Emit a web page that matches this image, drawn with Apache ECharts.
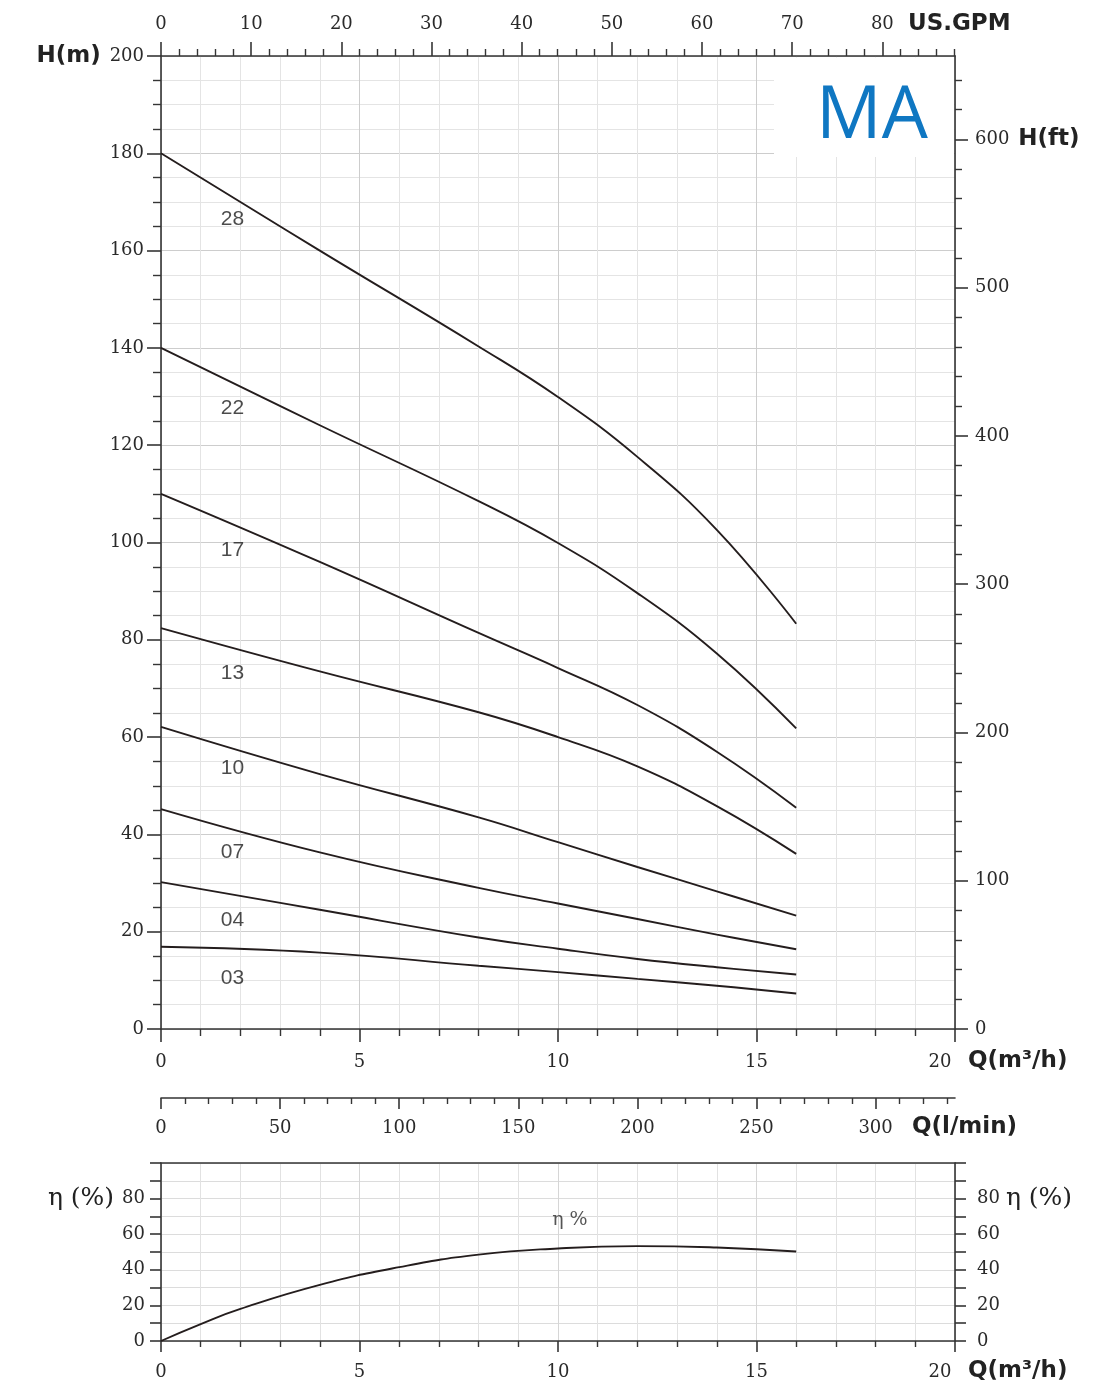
<!DOCTYPE html>
<html>
<head>
<meta charset="utf-8">
<script src="https://cdn.jsdelivr.net/npm/echarts@6/dist/echarts.min.js"></script>
<style>
html,body{margin:0;padding:0;background:#fff;}
#chart{width:1120px;height:1388px;}
</style>
</head>
<body>
<div id="chart"></div>
<script>
// ---------- data ----------
const flowQ = [0, 4, 8, 10, 12, 14, 16];               // m3/h
const stageNames = ['28', '22', '17', '13', '10', '07', '04', '03'];
const head28 = [180, 160.0, 140.3, 129.9, 117.6, 102.6, 83.3];
const head22 = [140, 124.1, 108.5, 99.9, 89.6, 77.2, 61.8];
const head17 = [110, 96.0, 81.4, 74.2, 66.6, 57.0, 45.5];
const head13 = [82.4, 73.5, 65.1, 60.0, 54.0, 45.8, 36.0];
const head10 = [62.1, 52.4, 43.5, 38.4, 33.3, 28.3, 23.3];
const head07 = [45.2, 36.3, 29.0, 25.8, 22.6, 19.4, 16.4];
const head04 = [30.2, 24.5, 18.8, 16.5, 14.4, 12.7, 11.2];
const head03 = [16.9, 15.7, 13.0, 11.7, 10.3, 8.9, 7.3];
const labelQ = 1.8;
const labelH = [166.5, 127.6, 98.5, 73.2, 53.6, 36.4, 22.4, 10.5];

const effQ = [0, 1, 2, 4, 6, 8, 10, 12, 14, 16];
const effPct = [0, 9.5, 18, 31.5, 41.5, 48.5, 52, 53.3, 52.5, 50.3];
const effLabelPos = [10.3, 68];

const qMajorTicks = [0, 5, 10, 15, 20];
const gpmMajorTicks = [0, 10, 20, 30, 40, 50, 60, 70, 80];
const gpmMinorTicks = [2,4,6,8,12,14,16,18,22,24,26,28,32,34,36,38,42,44,46,48,52,54,56,58,62,64,66,68,72,74,76,78,82,84,86,88];
const lpmMajorTicks = [0, 50, 100, 150, 200, 250, 300];
const lpmMinorTicks = [10,20,30,40,60,70,80,90,110,120,130,140,160,170,180,190,210,220,230,240,260,270,280,290,310,320,330];
const ftMajorTicks = [0, 100, 200, 300, 400, 500, 600];
const ftMinorTicks = [20,40,60,80,120,140,160,180,220,240,260,280,320,340,360,380,420,440,460,480,520,540,560,580,620,640];
const effLabelTicks = [0, 20, 40, 60, 80];

// unit conversions
const GPM_PER_M3H = 4.402868;
const LPM_PER_M3H = 1000 / 60;
const FT_PER_M = 3.28084;
const Q_MAX = 20, H_MAX = 200, EFF_MAX = 100;

// ---------- styles ----------
const AX = '#353535';
const TXT = '#2a2a2a';
const SERIF = 'DejaVu Serif';
const BOLD = { fontFamily: 'DejaVu Sans', fontWeight: 'bold', fontSize: 23, color: '#222' };
const lblBase = { fontFamily: SERIF, fontSize: 18, color: TXT };
const line = { color: AX, width: 1.6 };

function lineAxis(extra) {
  return Object.assign({
    type: 'value',
    axisLine: { show: true, onZero: false, lineStyle: line },
    axisTick: { show: true, inside: false, lineStyle: line },
    axisLabel: Object.assign({ show: true }, lblBase),
    splitLine: { show: false },
    silent: true
  }, extra);
}

const xAxes = [
  // 0 main Q bottom
  lineAxis({
    gridIndex: 0, position: 'bottom', min: 0, max: Q_MAX, interval: 5,
    axisTick: { show: true, length: 13, lineStyle: line },
    minorTick: { show: true, splitNumber: 5, length: 7, lineStyle: { color: AX, width: 1.4 } },
    splitLine: { show: true, lineStyle: { color: '#cdcdcd', width: 1 } },
    minorSplitLine: { show: true, lineStyle: { color: '#e4e4e4', width: 1 } },
    axisLabel: Object.assign({}, lblBase, {
      margin: 24,
      customValues: qMajorTicks,
      formatter: v => v === Q_MAX ? '{last|' + v + '}' : String(v),
      rich: { last: Object.assign({ padding: [0, 30, 0, 0] }, lblBase) }
    }),
    name: 'Q(m³/h)', nameLocation: 'end', nameGap: 13,
    nameTextStyle: Object.assign({ verticalAlign: 'top', padding: [21, 0, 0, 0] }, BOLD)
  }),
  // 1 GPM major top
  lineAxis({
    gridIndex: 0, position: 'top', min: 0, max: Q_MAX * GPM_PER_M3H,
    axisTick: { show: true, length: 14, customValues: gpmMajorTicks, lineStyle: line },
    axisLabel: Object.assign({}, lblBase, { margin: 23, customValues: gpmMajorTicks }),
    name: 'US.GPM', nameLocation: 'end', nameGap: -47,
    nameTextStyle: Object.assign({ verticalAlign: 'bottom', padding: [0, 0, 20, 0] }, BOLD)
  }),
  // 2 GPM minor top
  lineAxis({
    gridIndex: 0, position: 'top', min: 0, max: Q_MAX * GPM_PER_M3H,
    axisLine: { show: false, onZero: false },
    axisTick: { show: true, length: 7, customValues: gpmMinorTicks, lineStyle: { color: AX, width: 1.4 } },
    axisLabel: { show: false }
  }),
  // 3 l/min major
  lineAxis({
    gridIndex: 0, position: 'bottom', offset: 69, min: 0, max: Q_MAX * LPM_PER_M3H,
    axisTick: { show: true, length: 11, customValues: lpmMajorTicks, lineStyle: line },
    axisLabel: Object.assign({}, lblBase, { margin: 21, customValues: lpmMajorTicks }),
    name: 'Q(l/min)', nameLocation: 'end', nameGap: -43,
    nameTextStyle: Object.assign({ verticalAlign: 'top', padding: [18, 0, 0, 0] }, BOLD)
  }),
  // 4 l/min minor
  lineAxis({
    gridIndex: 0, position: 'bottom', offset: 69, min: 0, max: Q_MAX * LPM_PER_M3H,
    axisLine: { show: false, onZero: false },
    axisTick: { show: true, length: 6, customValues: lpmMinorTicks, lineStyle: { color: AX, width: 1.4 } },
    axisLabel: { show: false }
  }),
  // 5 efficiency Q bottom
  lineAxis({
    gridIndex: 1, position: 'bottom', min: 0, max: Q_MAX, interval: 5,
    axisTick: { show: true, length: 11, lineStyle: line },
    minorTick: { show: true, splitNumber: 5, length: 6, lineStyle: { color: AX, width: 1.4 } },
    splitLine: { show: true, lineStyle: { color: '#d6d6d6', width: 1 } },
    minorSplitLine: { show: true, lineStyle: { color: '#e2e2e2', width: 1 } },
    axisLabel: Object.assign({}, lblBase, {
      margin: 22,
      customValues: qMajorTicks,
      formatter: v => v === Q_MAX ? '{last|' + v + '}' : String(v),
      rich: { last: Object.assign({ padding: [0, 30, 0, 0] }, lblBase) }
    }),
    name: 'Q(m³/h)', nameLocation: 'end', nameGap: 13,
    nameTextStyle: Object.assign({ verticalAlign: 'top', padding: [19, 0, 0, 0] }, BOLD)
  }),
  // 6 efficiency top border
  lineAxis({
    gridIndex: 1, position: 'top', min: 0, max: Q_MAX,
    axisTick: { show: false }, axisLabel: { show: false }
  })
];

const yAxes = [
  // 0 H(m) left
  lineAxis({
    gridIndex: 0, position: 'left', min: 0, max: H_MAX, interval: 20,
    axisTick: { show: true, length: 14, lineStyle: line },
    minorTick: { show: true, splitNumber: 4, length: 8, lineStyle: { color: AX, width: 1.4 } },
    splitLine: { show: true, lineStyle: { color: '#cdcdcd', width: 1 } },
    minorSplitLine: { show: true, lineStyle: { color: '#e4e4e4', width: 1 } },
    axisLabel: Object.assign({}, lblBase, {
      margin: 17,
      formatter: v => v === H_MAX ? '{nm|H(m)}' + v : String(v),
      rich: { nm: Object.assign({ padding: [0, 9, 0, 0] }, BOLD) }
    })
  }),
  // 1 H(ft) right major
  lineAxis({
    gridIndex: 0, position: 'right', min: 0, max: H_MAX * FT_PER_M,
    axisTick: { show: true, length: 13, customValues: ftMajorTicks, lineStyle: line },
    axisLabel: Object.assign({}, lblBase, {
      margin: 20, customValues: ftMajorTicks,
      formatter: v => v === 600 ? v + '{nm|H(ft)}' : String(v),
      rich: { nm: Object.assign({ padding: [0, 0, 0, 9] }, BOLD) }
    })
  }),
  // 2 H(ft) right minor
  lineAxis({
    gridIndex: 0, position: 'right', min: 0, max: H_MAX * FT_PER_M,
    axisLine: { show: false, onZero: false },
    axisTick: { show: true, length: 7, customValues: ftMinorTicks, lineStyle: { color: AX, width: 1.4 } },
    axisLabel: { show: false }
  }),
  // 3 eff left
  lineAxis({
    gridIndex: 1, position: 'left', min: 0, max: EFF_MAX, interval: 10,
    axisTick: { show: true, length: 11, lineStyle: line },
    splitLine: { show: true, lineStyle: { color: '#dcdcdc', width: 1 } },
    axisLabel: Object.assign({}, lblBase, {
      margin: 16, customValues: effLabelTicks,
      formatter: v => v === 80 ? '{nm|η (%)}' + v : String(v),
      rich: { nm: { fontFamily: SERIF, fontSize: 25, color: '#222', padding: [0, 8, 0, 0] } }
    })
  }),
  // 4 eff right
  lineAxis({
    gridIndex: 1, position: 'right', min: 0, max: EFF_MAX, interval: 10,
    axisTick: { show: true, length: 11, lineStyle: line },
    axisLabel: Object.assign({}, lblBase, {
      margin: 22, customValues: effLabelTicks,
      formatter: v => v === 80 ? v + '{nm|η (%)}' : String(v),
      rich: { nm: { fontFamily: SERIF, fontSize: 25, color: '#222', padding: [0, 0, 0, 6] } }
    })
  })
];

const heads = [head28, head22, head17, head13, head10, head07, head04, head03];
const curveStyle = { color: '#241d1d', width: 1.9 };

const series = heads.map((h, i) => ({
  name: stageNames[i],
  type: 'line',
  xAxisIndex: 0, yAxisIndex: 0,
  data: flowQ.map((q, j) => [q, h[j]]),
  smooth: 0.45,
  showSymbol: false, silent: true,
  lineStyle: curveStyle, z: 3
}));

series.push({
  type: 'scatter', xAxisIndex: 0, yAxisIndex: 0, symbolSize: 0, silent: true,
  data: stageNames.map((s, i) => ({ name: s, value: [labelQ, labelH[i]] })),
  label: { show: true, position: 'inside', formatter: '{b}', fontFamily: 'Liberation Sans', fontSize: 21, color: '#1e1e1e' },
  z: 4
});

series.push({
  name: 'η %', type: 'line', xAxisIndex: 5, yAxisIndex: 3,
  data: effQ.map((q, j) => [q, effPct[j]]),
  smooth: true, showSymbol: false, silent: true,
  lineStyle: curveStyle, z: 3
});
series.push({
  type: 'scatter', xAxisIndex: 5, yAxisIndex: 3, symbolSize: 0, silent: true,
  data: [{ name: 'η %', value: effLabelPos }],
  label: { show: true, position: 'inside', formatter: '{b}', fontFamily: SERIF, fontSize: 19, color: '#2a2a2a' },
  z: 4
});

const chart = echarts.init(document.getElementById('chart'), null, { renderer: 'canvas' });
chart.setOption({
  animation: false,
  backgroundColor: '#fff',
  grid: [
    { left: 161, top: 56, width: 794, height: 973, containLabel: false },
    { left: 161, top: 1163, width: 794, height: 178, containLabel: false }
  ],
  xAxis: xAxes,
  yAxis: yAxes,
  series: series,
  graphic: [
    { type: 'rect', z: 1, shape: { x: 774, y: 57.5, width: 180, height: 99.5 }, style: { fill: '#fff' }, silent: true },
    { type: 'text', z: 2, x: 872, y: 117, style: { text: 'MA', fontFamily: 'Open Sans', fontSize: 73, fill: '#0f77c2', align: 'center', verticalAlign: 'middle' }, silent: true }
  ]
});
</script>
</body>
</html>
